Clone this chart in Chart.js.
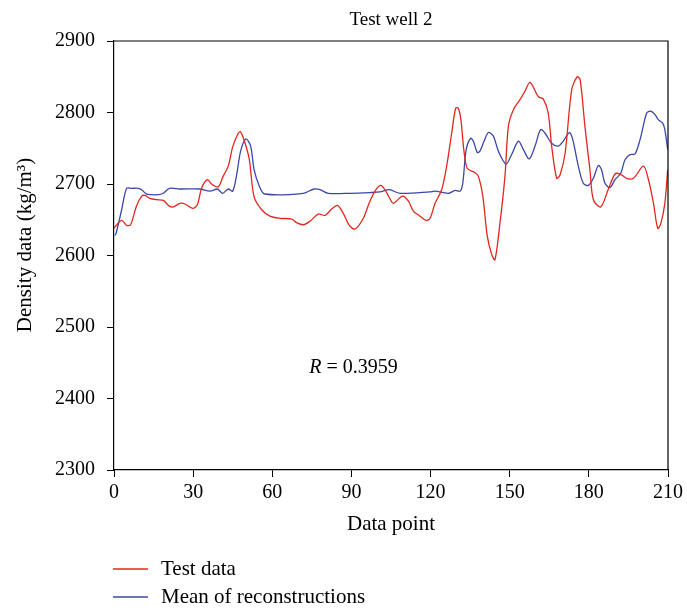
<!DOCTYPE html>
<html>
<head>
<meta charset="utf-8">
<script src="https://cdn.jsdelivr.net/npm/chart.js@4/dist/chart.umd.min.js"></script>
<style>
  html, body { margin: 0; padding: 0; background: #fff; }
  #wrap { width: 687px; height: 612px; }
</style>
</head>
<body>
<div id="wrap"><canvas id="chart" width="687" height="612"></canvas></div>
<script>
// [data point, density] pairs for both curves
const testData = [
  [0, 2638], [0.8, 2642], [2.9, 2649], [4.8, 2642], [6.3, 2643], [8.5, 2669], [10.5, 2683],
  [11.8, 2684], [13.6, 2680], [16.2, 2678], [18.7, 2677], [21, 2669], [22.5, 2668], [25, 2673],
  [26.9, 2672], [29.8, 2666], [31.6, 2671], [33.2, 2694], [35.4, 2706], [37, 2700], [39.5, 2696],
  [41.4, 2711], [43.3, 2725], [45, 2752], [47.1, 2771], [48, 2773], [49.7, 2757], [51.3, 2734],
  [53.1, 2682], [56, 2664], [59.1, 2655], [62.9, 2652], [67.4, 2651], [69.2, 2646], [71.8, 2643],
  [74.3, 2648], [77.4, 2658], [80, 2656], [82.5, 2665], [84.7, 2670], [86.9, 2659], [89.2, 2642],
  [91.4, 2637], [94.5, 2652], [97, 2676], [99.3, 2692], [101.1, 2698], [102.7, 2692], [104.5, 2680],
  [105.9, 2673], [109.4, 2683], [111.6, 2676], [113.5, 2662], [116, 2655], [118.3, 2649],
  [119.8, 2652], [121.7, 2673], [124.2, 2692], [126.1, 2725], [128, 2771], [129.5, 2806],
  [130.5, 2806], [131.5, 2790], [132.6, 2748], [133.9, 2722], [136.8, 2716], [138.1, 2711],
  [139.8, 2683], [141.5, 2627], [143.2, 2601], [144.4, 2594], [146.3, 2645], [148.2, 2711],
  [149.5, 2781], [151.4, 2804], [153.9, 2818], [155.8, 2830], [157.7, 2842], [160.9, 2822],
  [162.7, 2819], [164.6, 2799], [165.9, 2753], [167.8, 2708], [169.1, 2713], [171, 2743],
  [173.5, 2832], [175.6, 2850], [176.7, 2846], [178.5, 2781], [180.4, 2720], [181.7, 2678],
  [184.5, 2668], [187.3, 2692], [189.9, 2714], [191.8, 2714], [194.3, 2708], [196.9, 2708],
  [200.7, 2725], [202.6, 2706], [204.5, 2673], [206.1, 2638], [207.3, 2645], [208.8, 2673],
  [209.9, 2720]
];

const meanData = [
  [0.3, 2628], [0.8, 2631], [2.9, 2664], [4.8, 2694], [6.7, 2694], [9.2, 2694], [10.5, 2692],
  [12.4, 2686], [16.8, 2685], [18.7, 2687], [21, 2694], [25, 2693], [32.6, 2693], [36.4, 2690],
  [39.2, 2693], [41.2, 2687], [43.3, 2693], [45, 2690], [46.5, 2713], [48, 2746], [50, 2763],
  [51.8, 2753], [53.1, 2720], [55.1, 2697], [57.2, 2686], [71.8, 2687], [75.8, 2693], [78.1, 2692],
  [81.2, 2687], [89.5, 2687], [97, 2688], [100.8, 2689], [104.4, 2692], [108.4, 2687],
  [119.8, 2689], [121.7, 2690], [126.7, 2687], [129.3, 2691], [131.2, 2690], [132.2, 2701],
  [133.5, 2748], [135.2, 2764], [136.2, 2760], [137.7, 2744], [138.7, 2746], [140.3, 2760],
  [141.9, 2772], [143.8, 2767], [145.7, 2746], [148.6, 2728], [150.7, 2741], [153.3, 2760],
  [155.2, 2748], [157.4, 2735], [159.6, 2753], [161.7, 2776], [163.4, 2771], [165.9, 2757],
  [168.4, 2753], [170.3, 2760], [172.6, 2772], [173.9, 2762], [176, 2725], [177.9, 2701],
  [179.8, 2698], [181.7, 2708], [183.6, 2726], [184.8, 2720], [186.1, 2701], [188, 2695],
  [189.9, 2706], [192.1, 2715], [193.7, 2734], [195.6, 2741], [197.5, 2742], [199.4, 2762],
  [201.9, 2799], [203.4, 2802], [205.1, 2797], [206.3, 2790], [208, 2785], [208.8, 2776],
  [209.9, 2748]
];

const seriesNames = ["Test data", "Mean of reconstructions"];
const seriesColors = ["#e2271d", "#3b47a8"];
const xTicks = [0, 30, 60, 90, 120, 150, 180, 210];
const yTicks = [2300, 2400, 2500, 2600, 2700, 2800, 2900];
const rText = "0.3959";

const serif = "'Liberation Serif', 'DejaVu Serif', serif";

const toPoints = arr => arr.map(p => ({ x: p[0], y: p[1] }));

// title, axis titles, R value, legend and the closing box lines
const decorations = {
  id: "decorations",
  afterDraw(chart) {
    const { ctx, chartArea: a, scales } = chart;
    ctx.save();

    ctx.strokeStyle = "#000";
    ctx.lineWidth = 1.2;
    ctx.beginPath();
    ctx.moveTo(a.left, a.top);
    ctx.lineTo(a.right, a.top);
    ctx.lineTo(a.right, a.bottom);
    ctx.stroke();

    ctx.fillStyle = "#000";
    ctx.textAlign = "center";
    ctx.textBaseline = "middle";

    ctx.font = "19px " + serif;
    ctx.fillText("Test well 2", (a.left + a.right) / 2, 20);

    ctx.font = "21px " + serif;
    ctx.fillText("Data point", (a.left + a.right) / 2, 524);

    ctx.save();
    ctx.translate(25, 245);
    ctx.rotate(-Math.PI / 2);
    ctx.fillText("Density data (kg/m³)", 0, 0);
    ctx.restore();

    // correlation note
    const rx = scales.x.getPixelForValue(74);
    const ry = scales.y.getPixelForValue(2443);
    ctx.textAlign = "left";
    ctx.font = "italic 20px " + serif;
    ctx.fillText("R", rx, ry);
    const rw = ctx.measureText("R").width;
    ctx.font = "20px " + serif;
    ctx.fillText(" = " + rText, rx + rw, ry);

    // legend
    ctx.font = "21px " + serif;
    seriesNames.forEach((name, i) => {
      const y = 569 + i * 28;
      ctx.strokeStyle = seriesColors[i];
      ctx.lineWidth = 1.3;
      ctx.beginPath();
      ctx.moveTo(113, y);
      ctx.lineTo(148, y);
      ctx.stroke();
      ctx.fillStyle = "#000";
      ctx.fillText(name, 161, y);
    });

    ctx.restore();
  }
};

new Chart(document.getElementById("chart"), {
  type: "line",
  data: {
    datasets: [
      {
        label: seriesNames[0],
        data: toPoints(testData),
        borderColor: seriesColors[0],
        borderWidth: 1.3,
        pointRadius: 0,
        tension: 0.3
      },
      {
        label: seriesNames[1],
        data: toPoints(meanData),
        borderColor: seriesColors[1],
        borderWidth: 1.3,
        pointRadius: 0,
        tension: 0.3
      }
    ]
  },
  options: {
    responsive: false,
    animation: false,
    layout: { padding: { top: 41, right: 19, left: 0, bottom: 0 } },
    plugins: {
      legend: { display: false },
      title: { display: false },
      tooltip: { enabled: false }
    },
    scales: {
      x: {
        type: "linear",
        min: 0,
        max: 210,
        afterBuildTicks: s => { s.ticks = xTicks.map(v => ({ value: v })); },
        afterFit: s => { s.height = 142; },
        ticks: {
          color: "#000", font: { family: serif, size: 20 }, padding: 4, maxRotation: 0,
          callback: v => String(v)
        },
        grid: { drawOnChartArea: false, drawTicks: true, tickLength: 7, color: "#000" },
        border: { display: true, color: "#000", width: 1.2 }
      },
      y: {
        min: 2300,
        max: 2900,
        afterBuildTicks: s => { s.ticks = yTicks.map(v => ({ value: v })); },
        afterFit: s => { s.width = 114; },
        ticks: {
          color: "#000", font: { family: serif, size: 20 }, padding: 12,
          callback: v => String(v)
        },
        grid: { drawOnChartArea: false, drawTicks: true, tickLength: 7, color: "#000" },
        border: { display: true, color: "#000", width: 1.2 }
      }
    }
  },
  plugins: [decorations]
});
</script>
</body>
</html>
